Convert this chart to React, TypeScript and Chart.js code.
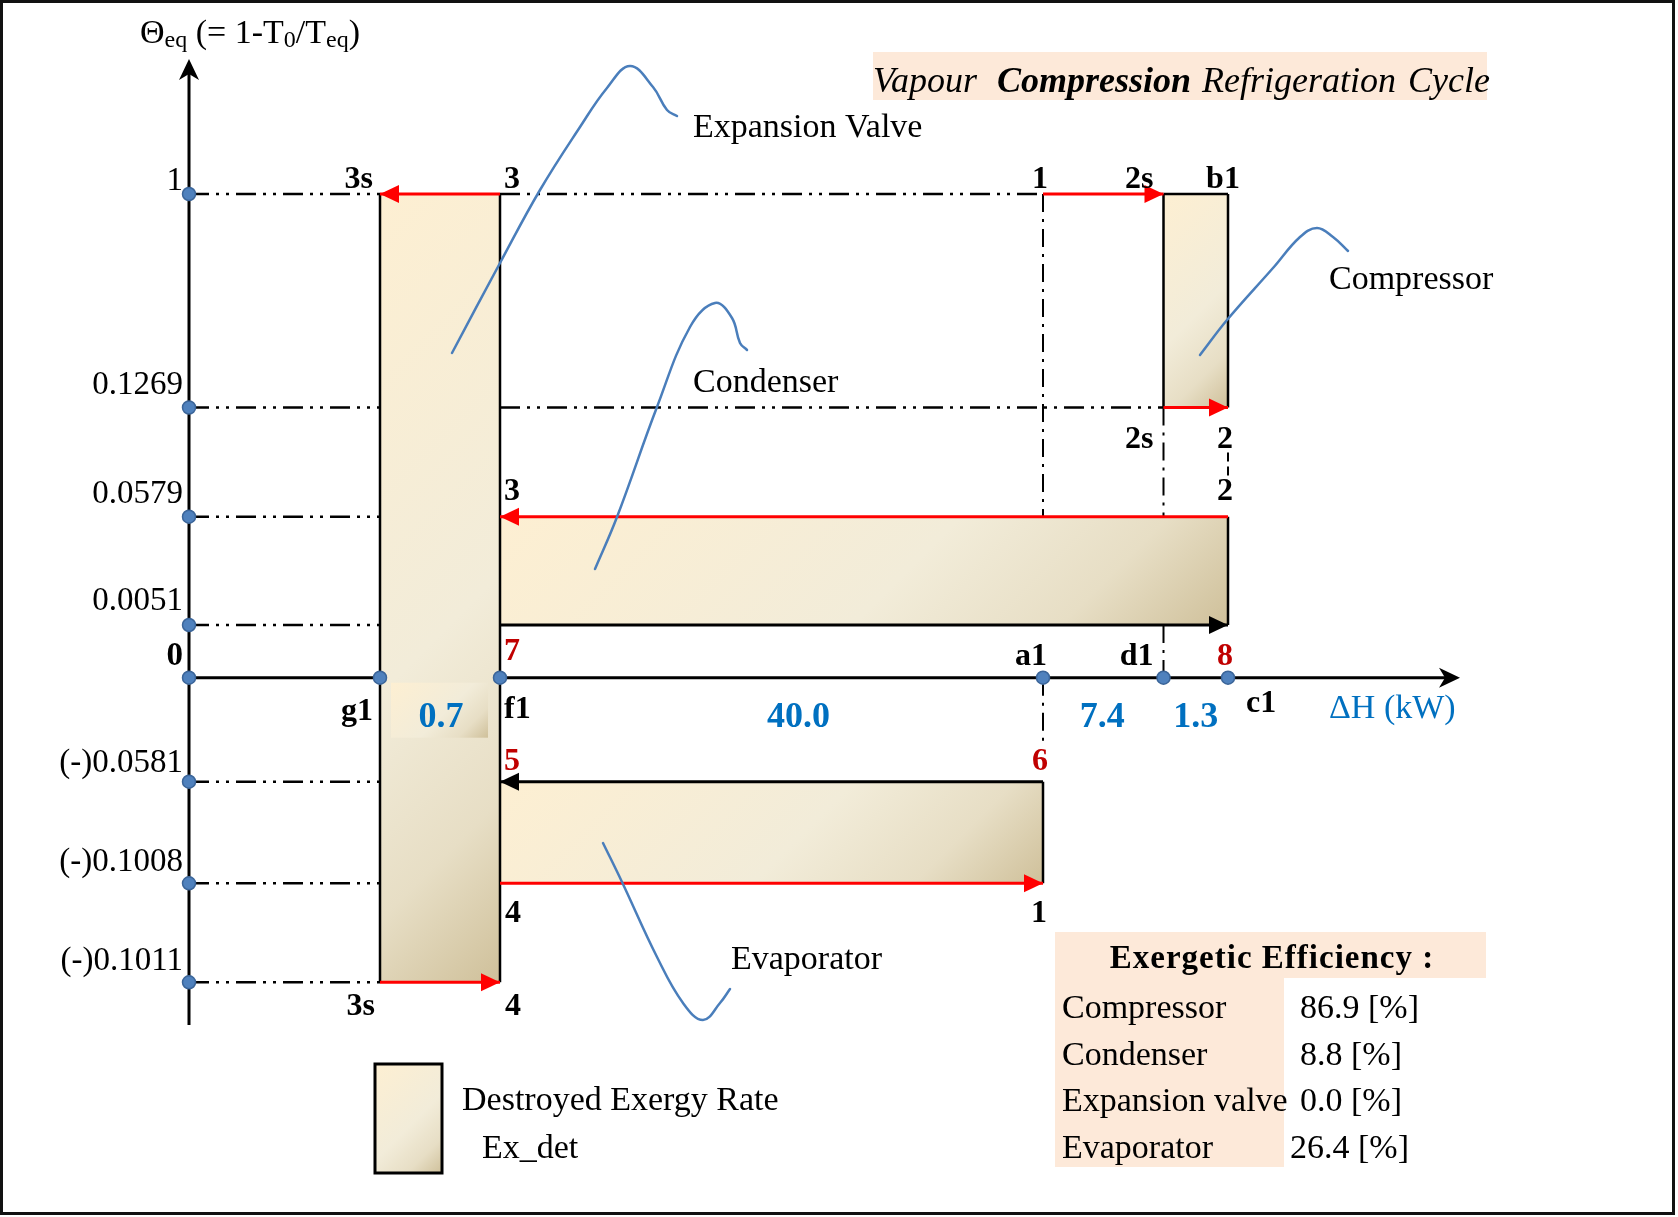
import React, { useEffect, useRef } from 'react';
import { Chart, registerables } from 'chart.js';

Chart.register(...registerables);

const W = 1678;
const H = 1217;
const FONT = '"Liberation Serif", "Times New Roman", Times, serif';
const RED = '#ff0000';
const DARKRED = '#c00000';
const BLUE = '#0070c0';
const BLACK = '#000000';
const DOT = '#4f81bd';
const DOT_EDGE = '#3b6599';
const CALLOUT = '#4a7ebb';
const PEACH = '#fde9d9';
const CREAM = '#fdefd2';

// ---------------- data ----------------
const thetaLevels = [1, 0.1269, 0.0579, 0.0051, 0, -0.0581, -0.1008, -0.1011];
const thetaTickLabels = ['1', '0.1269', '0.0579', '0.0051', '0', '(-)0.0581', '(-)0.1008', '(-)0.1011'];
const dhNodes = ['0', 'g1', 'f1', 'a1', 'd1', 'c1'];
const dhSegmentValues = [0.7, 40.0, 7.4, 1.3]; // g1-f1, f1-a1, a1-d1, d1-c1
const components = ['Compressor', 'Condenser', 'Expansion valve', 'Evaporator'];
const exergeticEfficiency = [86.9, 8.8, 0.0, 26.4];

// ---------------- schematic layout (diagram is not to scale) ----------------
const levelSlot = [48.37, 27.02, 16.1, 5.27, 0, -10.4, -20.56, -30.46];
const nodeSlot = [0, 19.1, 31.1, 85.4, 97.45, 103.9];
const levelLabelDy = [-4, -14, -14, -15, -13, -10, -12, -12];
const segmentLabelDx = [1, 27, -1, 0];
const tableValueDx = [0, 0, 0, -10];

const X = (n: string) => nodeSlot[dhNodes.indexOf(n)];
const Y = (t: number) => levelSlot[thetaLevels.indexOf(t)];

const boxes = [
  { x: ['g1', 'f1'], th: [1, -0.1011] }, // expansion valve
  { x: ['f1', 'c1'], th: [0.0579, 0.0051] }, // condenser
  { x: ['f1', 'a1'], th: [-0.0581, -0.1008] }, // evaporator
  { x: ['d1', 'c1'], th: [1, 0.1269] }, // compressor
];

const borders = [
  { x: ['g1', 'g1'], th: [1, -0.1011] },
  { x: ['f1', 'f1'], th: [1, -0.1011] },
  { x: ['c1', 'c1'], th: [0.0579, 0.0051] },
  { x: ['a1', 'a1'], th: [-0.0581, -0.1008] },
  { x: ['d1', 'd1'], th: [1, 0.1269] },
  { x: ['c1', 'c1'], th: [1, 0.1269] },
  { x: ['d1', 'c1'], th: [1, 1] },
];

const processes = [
  { from: ['f1', 1], to: ['g1', 1], color: RED }, // 3 -> 3s
  { from: ['a1', 1], to: ['d1', 1], color: RED }, // 1 -> 2s
  { from: ['d1', 0.1269], to: ['c1', 0.1269], color: RED }, // 2s -> 2
  { from: ['c1', 0.0579], to: ['f1', 0.0579], color: RED }, // 2 -> 3
  { from: ['f1', 0.0051], to: ['c1', 0.0051], color: BLACK }, // 7 -> 8
  { from: ['a1', -0.0581], to: ['f1', -0.0581], color: BLACK }, // 6 -> 5
  { from: ['f1', -0.1008], to: ['a1', -0.1008], color: RED }, // 4 -> 1
  { from: ['g1', -0.1011], to: ['f1', -0.1011], color: RED }, // 3s -> 4
] as { from: [string, number]; to: [string, number]; color: string }[];

const hGuides = [
  ...thetaLevels.filter((t) => t !== 0).map((t) => ({ x: ['0', 'g1'], th: t })),
  { x: ['f1', 'a1'], th: 1 },
  { x: ['f1', 'd1'], th: 0.1269 },
];

const vGuides = [
  { node: 'a1', th: [1, 0.0579], trim: 0 },
  { node: 'a1', th: [0, -0.0581], trim: 4.0 },
  { node: 'd1', th: [0.1269, 0.0579], trim: 0 },
  { node: 'd1', th: [0.0051, 0], trim: 0 },
];

const axisExtent = { yBottom: -34.73, yTop: 61.87, xRight: 127.1 };

const callouts = [
  { label: 'Expansion Valve', at: [50.4, 54.07], pts: [[26.3, 32.47], [31.1, 41.47], [35.1, 48.77], [39.1, 55.07], [41.8, 58.97], [44.1, 61.17], [46.4, 59.07], [47.8, 56.77], [48.8, 56.17]] },
  { label: 'Condenser', at: [50.4, 28.57], pts: [[40.6, 10.87], [42.8, 16.07], [46.8, 27.07], [50.1, 35.07], [52.6, 37.47], [54.3, 35.97], [55.1, 33.47], [55.8, 32.77]] },
  { label: 'Compressor', at: [114.0, 38.87], pts: [[101.1, 32.27], [103.8, 35.77], [108.4, 40.97], [111.1, 44.07], [112.8, 44.97], [114.4, 44.07], [115.9, 42.67]] },
  { label: 'Evaporator', at: [54.2, -29.13], pts: [[41.4, -16.53], [43.3, -20.43], [46.8, -27.93], [49.4, -32.53], [51.4, -34.23], [53.1, -32.53], [54.1, -31.13]] },
];

const nodeLabels = [
  { t: '3s', n: 'g1', th: 1, dx: -7, dy: -6, al: 'right' },
  { t: '3', n: 'f1', th: 1, dx: 4, dy: -6, al: 'left' },
  { t: '1', n: 'a1', th: 1, dx: -3, dy: -6, al: 'center' },
  { t: '2s', n: 'd1', th: 1, dx: -10, dy: -6, al: 'right' },
  { t: 'b1', n: 'c1', th: 1, dx: -5, dy: -6, al: 'center' },
  { t: '2s', n: 'd1', th: 0.1269, dx: -10, dy: 40, al: 'right' },
  { t: '2', n: 'c1', th: 0.1269, dx: -3, dy: 40, al: 'center' },
  { t: '2', n: 'c1', th: 0.0579, dx: -3, dy: -17, al: 'center' },
  { t: '3', n: 'f1', th: 0.0579, dx: 4, dy: -17, al: 'left' },
  { t: '7', n: 'f1', th: 0, dx: 4, dy: -18, al: 'left', c: DARKRED },
  { t: 'a1', n: 'a1', th: 0, dx: -12, dy: -13, al: 'center' },
  { t: 'd1', n: 'd1', th: 0, dx: -10, dy: -13, al: 'right' },
  { t: '8', n: 'c1', th: 0, dx: -3, dy: -13, al: 'center', c: DARKRED },
  { t: 'g1', n: 'g1', th: 0, dx: -7, dy: 42, al: 'right' },
  { t: 'f1', n: 'f1', th: 0, dx: 4, dy: 40, al: 'left' },
  { t: 'c1', n: 'c1', th: 0, dx: 18, dy: 34, al: 'left' },
  { t: '5', n: 'f1', th: -0.0581, dx: 4, dy: -12, al: 'left', c: DARKRED },
  { t: '6', n: 'a1', th: -0.0581, dx: -3, dy: -12, al: 'center', c: DARKRED },
  { t: '4', n: 'f1', th: -0.1008, dx: 5, dy: 39, al: 'left' },
  { t: '1', n: 'a1', th: -0.1008, dx: -4, dy: 39, al: 'center' },
  { t: '3s', n: 'g1', th: -0.1011, dx: -5, dy: 33, al: 'right' },
  { t: '4', n: 'f1', th: -0.1011, dx: 5, dy: 33, al: 'left' },
];

function boxGradient(ctx: CanvasRenderingContext2D, x1: number, y1: number, x2: number, y2: number) {
  const w = x2 - x1;
  const h = y2 - y1;
  const L = (w + h) / 2;
  const g = ctx.createLinearGradient(x1, y1, x1 + L, y1 + L);
  g.addColorStop(0, '#fdefd2');
  g.addColorStop(0.55, '#f2ecd9');
  g.addColorStop(0.8, '#e7dec5');
  g.addColorStop(1, '#cfc09a');
  return g;
}

function arrowHead(ctx: CanvasRenderingContext2D, x: number, y: number, dx: number, dy: number, color: string, len = 19, half = 9) {
  const m = Math.hypot(dx, dy) || 1;
  const ux = dx / m;
  const uy = dy / m;
  ctx.beginPath();
  ctx.moveTo(x, y);
  ctx.lineTo(x - ux * len - uy * half, y - uy * len + ux * half);
  ctx.lineTo(x - ux * len + uy * half, y - uy * len - ux * half);
  ctx.closePath();
  ctx.fillStyle = color;
  ctx.fill();
}

function stealth(ctx: CanvasRenderingContext2D, x: number, y: number, ux: number, uy: number, len = 21, half = 10, notch = 6) {
  ctx.beginPath();
  ctx.moveTo(x, y);
  ctx.lineTo(x - ux * len - uy * half, y - uy * len + ux * half);
  ctx.lineTo(x - ux * (len - notch), y - uy * (len - notch));
  ctx.lineTo(x - ux * len + uy * half, y - uy * len - ux * half);
  ctx.closePath();
  ctx.fillStyle = BLACK;
  ctx.fill();
}

function txt(ctx: CanvasRenderingContext2D, s: string, x: number, y: number, font: string, color = BLACK, align: CanvasTextAlign = 'left') {
  ctx.font = font;
  ctx.fillStyle = color;
  ctx.textAlign = align;
  ctx.textBaseline = 'alphabetic';
  ctx.fillText(s, x, y);
}

const seg = (pts: { x: number; y: number }[], opts: any) => ({
  type: 'line',
  data: pts,
  showLine: true,
  pointRadius: 0,
  pointHoverRadius: 0,
  fill: false,
  tension: 0,
  ...opts,
});

const annotatePlugin = {
  id: 'annotate',
  afterDatasetsDraw(chart: any) {
    const ctx: CanvasRenderingContext2D = chart.ctx;
    const sx = chart.scales.x;
    const sy = chart.scales.y;
    const px = (v: number) => sx.getPixelForValue(v);
    const py = (v: number) => sy.getPixelForValue(v);
    ctx.save();

    // arrowheads of process lines
    processes.forEach((p) => {
      const x1 = px(X(p.from[0]));
      const y1 = py(Y(p.from[1]));
      const x2 = px(X(p.to[0]));
      const y2 = py(Y(p.to[1]));
      arrowHead(ctx, x2, y2, x2 - x1, y2 - y1, p.color);
    });

    // axis arrowheads
    stealth(ctx, px(0), py(axisExtent.yTop), 0, -1);
    stealth(ctx, px(axisExtent.xRight), py(0), 1, 0);

    // short dashed link between the two "2" labels
    ctx.beginPath();
    ctx.setLineDash([9, 5]);
    ctx.lineWidth = 2;
    ctx.strokeStyle = BLACK;
    ctx.moveTo(px(X('c1')), py(Y(0.1269)) + 45);
    ctx.lineTo(px(X('c1')), py(Y(0.0579)) - 39);
    ctx.stroke();
    ctx.setLineDash([]);

    // y-axis title
    const parts: [string, boolean][] = [['Θ', false], ['eq', true], [' (= 1-T', false], ['0', true], ['/T', false], ['eq', true], [')', false]];
    let cx = 140;
    parts.forEach(([s, sub]) => {
      ctx.font = sub ? `24px ${FONT}` : `34px ${FONT}`;
      ctx.fillStyle = BLACK;
      ctx.textAlign = 'left';
      ctx.fillText(s, cx, sub ? 47 : 43);
      cx += ctx.measureText(s).width;
    });

    // y tick labels
    thetaTickLabels.forEach((lab, i) => {
      const bold = thetaLevels[i] === 0;
      txt(ctx, lab, px(0) - 6, py(levelSlot[i]) + levelLabelDy[i], `${bold ? 'bold ' : ''}33px ${FONT}`, BLACK, 'right');
    });

    // node labels
    nodeLabels.forEach((l) => {
      txt(ctx, l.t, px(X(l.n)) + l.dx, py(Y(l.th)) + l.dy, `bold 32px ${FONT}`, (l as any).c || BLACK, l.al as CanvasTextAlign);
    });

    // segment value background for 0.7 (inside the expansion-valve column)
    {
      const bx1 = px(X('g1')) + 11;
      const bx2 = px(X('f1')) - 12;
      const by1 = py(0) + 5;
      const by2 = py(0) + 60;
      ctx.fillStyle = boxGradient(ctx, bx1, by1, bx2, by2);
      ctx.fillRect(bx1, by1, bx2 - bx1, by2 - by1);
    }

    // ΔH segment values
    const segNodes = ['g1', 'f1', 'a1', 'd1', 'c1'];
    dhSegmentValues.forEach((v, i) => {
      const mid = (px(X(segNodes[i])) + px(X(segNodes[i + 1]))) / 2 + segmentLabelDx[i];
      txt(ctx, v.toFixed(1), mid, py(0) + 49, `bold 36px ${FONT}`, BLUE, 'center');
    });
    txt(ctx, 'ΔH (kW)', px(X('c1')) + 101, py(0) + 40, `34px ${FONT}`, BLUE, 'left');

    // component callout labels
    callouts.forEach((c) => {
      txt(ctx, c.label, px(c.at[0]), py(c.at[1]), `34px ${FONT}`, BLACK, 'left');
    });

    // title
    ctx.fillStyle = PEACH;
    ctx.fillRect(873, 52, 614, 48);
    txt(ctx, 'Vapour', 873, 92, `italic 36px ${FONT}`);
    txt(ctx, 'Compression', 997, 92, `italic bold 36px ${FONT}`);
    txt(ctx, 'Refrigeration', 1202, 92, `italic 36px ${FONT}`);
    txt(ctx, 'Cycle', 1408, 92, `italic 36px ${FONT}`);

    // exergetic efficiency table
    ctx.fillStyle = PEACH;
    ctx.fillRect(1055, 932, 431, 46);
    ctx.fillRect(1055, 978, 229, 189);
    try { (ctx as any).letterSpacing = '1px'; } catch (e) { /* ignore */ }
    txt(ctx, 'Exergetic Efficiency :', 1272, 968, `bold 33px ${FONT}`, BLACK, 'center');
    try { (ctx as any).letterSpacing = '0px'; } catch (e) { /* ignore */ }
    components.forEach((c, i) => {
      const yb = 1018 + i * 46.7;
      txt(ctx, c, 1062, yb, `34px ${FONT}`);
      txt(ctx, `${exergeticEfficiency[i].toFixed(1)} [%]`, 1300 + tableValueDx[i], yb, `34px ${FONT}`);
    });

    // legend
    ctx.fillStyle = boxGradient(ctx, 375, 1064, 442, 1173);
    ctx.fillRect(375, 1064, 67, 109);
    ctx.lineWidth = 3;
    ctx.strokeStyle = BLACK;
    ctx.strokeRect(375, 1064, 67, 109);
    txt(ctx, 'Destroyed Exergy Rate', 462, 1110, `34px ${FONT}`);
    txt(ctx, 'Ex_det', 482, 1158, `34px ${FONT}`);

    // outer frame
    ctx.lineWidth = 3;
    ctx.strokeStyle = '#111';
    ctx.strokeRect(1.5, 1.5, 1672, 1212);

    ctx.restore();
  },
};

export default function App() {
  const ref = useRef<HTMLCanvasElement>(null);

  useEffect(() => {
    document.body.style.margin = '0';
    const datasets: any[] = [];

    // axes
    datasets.push(seg([{ x: 0, y: axisExtent.yBottom }, { x: 0, y: axisExtent.yTop - 1.5 }], { borderColor: BLACK, borderWidth: 3, order: 200 }));
    datasets.push(seg([{ x: 0, y: 0 }, { x: axisExtent.xRight - 1.5, y: 0 }], { borderColor: BLACK, borderWidth: 3, order: 200 }));

    // destroyed exergy boxes
    boxes.forEach((b) => {
      datasets.push(
        seg([{ x: X(b.x[0]), y: Y(b.th[0]) }, { x: X(b.x[1]), y: Y(b.th[0]) }], {
          borderWidth: 1,
          borderColor: 'rgba(0,0,0,0)',
          fill: { value: Y(b.th[1]) },
          backgroundColor: (c: any) => {
            const ch = c.chart;
            if (!ch.chartArea || !ch.scales || !ch.scales.x) return CREAM;
            const sx = ch.scales.x;
            const sy = ch.scales.y;
            return boxGradient(ch.ctx, sx.getPixelForValue(X(b.x[0])), sy.getPixelForValue(Y(b.th[0])), sx.getPixelForValue(X(b.x[1])), sy.getPixelForValue(Y(b.th[1])));
          },
          order: 150,
        })
      );
    });

    // dash-dot-dot guides
    hGuides.forEach((g) => {
      datasets.push(seg([{ x: X(g.x[0]), y: Y(g.th) }, { x: X(g.x[1]), y: Y(g.th) }], { borderColor: BLACK, borderWidth: 2.5, borderDash: [20, 7, 3, 7, 3, 7], order: 100 }));
    });
    vGuides.forEach((g) => {
      datasets.push(seg([{ x: X(g.node), y: Y(g.th[0]) }, { x: X(g.node), y: Y(g.th[1]) + g.trim }], { borderColor: BLACK, borderWidth: 2, borderDash: [18, 7, 3, 7], order: 100 }));
    });

    // box borders
    borders.forEach((b) => {
      datasets.push(seg([{ x: X(b.x[0]), y: Y(b.th[0]) }, { x: X(b.x[1]), y: Y(b.th[1]) }], { borderColor: BLACK, borderWidth: 2.5, order: 50 }));
    });

    // process lines
    processes.forEach((p) => {
      datasets.push(seg([{ x: X(p.from[0]), y: Y(p.from[1]) }, { x: X(p.to[0]), y: Y(p.to[1]) }], { borderColor: p.color, borderWidth: 3, order: 40 }));
    });

    // callout leader curves
    callouts.forEach((c) => {
      datasets.push(seg(c.pts.map(([x, y]) => ({ x, y })), { borderColor: CALLOUT, borderWidth: 2.5, tension: 0.4, borderCapStyle: 'round', order: 30 }));
    });

    // state points on the axes
    const dots = [
      ...levelSlot.map((s) => ({ x: 0, y: s })),
      ...dhNodes.filter((n) => n !== '0').map((n) => ({ x: X(n), y: 0 })),
    ];
    datasets.push({
      type: 'line',
      data: dots,
      showLine: false,
      pointRadius: 6.5,
      pointHoverRadius: 6.5,
      pointBackgroundColor: DOT,
      pointBorderColor: DOT_EDGE,
      pointBorderWidth: 1.5,
      order: 0,
    });

    const chart = new Chart(ref.current as HTMLCanvasElement, {
      type: 'line',
      data: { datasets },
      options: {
        animation: false,
        responsive: false,
        devicePixelRatio: 1,
        events: [],
        layout: { padding: 0, autoPadding: false },
        plugins: { legend: { display: false }, tooltip: { enabled: false }, title: { display: false } },
        scales: {
          x: { type: 'linear', min: -18.9, max: 148.9, display: false, bounds: 'data' },
          y: { type: 'linear', min: -53.93, max: 67.77, display: false, bounds: 'data' },
        },
      } as any,
      plugins: [annotatePlugin],
    } as any);

    return () => chart.destroy();
  }, []);

  return <canvas ref={ref} width={W} height={H} style={{ display: 'block', width: W, height: H }} />;
}
